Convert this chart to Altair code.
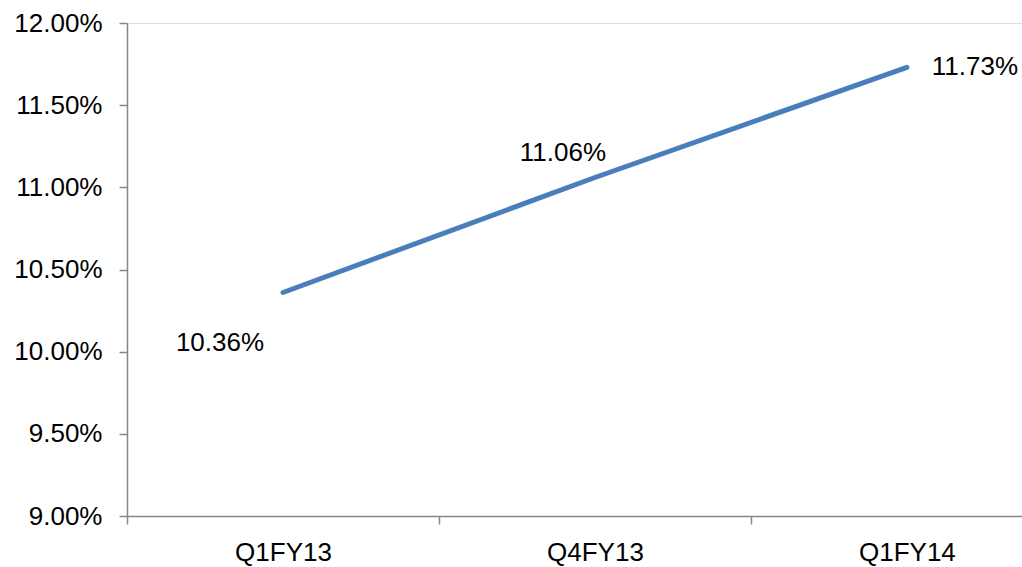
import altair as alt
import pandas as pd

# Quarterly ratio series
quarters = ["Q1FY13", "Q4FY13", "Q1FY14"]
ratios = [0.1036, 0.1106, 0.1173]

# Label placement relative to each point (pixels)
label_dx = [-63, -32, 68]
label_dy = [50, -24, 0]

df = pd.DataFrame({
    "idx": list(range(len(quarters))),
    "quarter": quarters,
    "ratio": ratios,
})

FONT = "Liberation Sans"
FONT_SIZE = 26
AXIS_GREY = "#868686"
LINE_BLUE = "#4A7EBB"

label_expr = " : ".join(
    f"datum.value == {i} ? '{q}'" for i, q in enumerate(quarters)
) + " : ''"

x_scale = alt.Scale(domain=[-0.5, 2.369], nice=False, zero=False)
y_scale = alt.Scale(domain=[0.09, 0.12], nice=False, zero=False)

x_enc = alt.X(
    "idx:Q",
    scale=x_scale,
    axis=alt.Axis(
        values=[-0.5, 0, 0.5, 1, 1.5, 2],
        labelExpr=label_expr,
        title=None,
        grid=False,
        domainColor=AXIS_GREY,
        domainWidth=1.5,
        tickColor=AXIS_GREY,
        tickWidth=1.5,
        tickSize=8,
        tickOpacity={"condition": {"test": "datum.value % 1 != 0", "value": 1}, "value": 0},
        labelFont=FONT,
        labelFontSize=FONT_SIZE,
        labelColor="#000000",
        labelPadding=15,
        labelOverlap=False,
        labelBound=False,
        labelFlush=False,
    ),
)

y_enc = alt.Y(
    "ratio:Q",
    scale=y_scale,
    axis=alt.Axis(
        values=[0.09, 0.095, 0.10, 0.105, 0.11, 0.115, 0.12],
        format=".2%",
        title=None,
        grid=False,
        domainColor=AXIS_GREY,
        domainWidth=1.5,
        tickColor=AXIS_GREY,
        tickWidth=1.5,
        tickSize=8,
        labelFont=FONT,
        labelFontSize=FONT_SIZE,
        labelColor="#000000",
        labelPadding=17,
        labelFlush=False,
        labelOverlap=False,
    ),
)

line = alt.Chart(df).mark_line(
    color=LINE_BLUE, strokeWidth=5, strokeCap="round", clip=False
).encode(x=x_enc, y=y_enc)

labels = []
for i in range(len(quarters)):
    labels.append(
        alt.Chart(df)
        .transform_filter(alt.datum.idx == i)
        .mark_text(
            font=FONT,
            fontSize=FONT_SIZE,
            color="#000000",
            align="center",
            baseline="middle",
            dx=label_dx[i],
            dy=label_dy[i],
        )
        .encode(
            x=alt.X("idx:Q", scale=x_scale),
            y=alt.Y("ratio:Q", scale=y_scale),
            text=alt.Text("ratio:Q", format=".2%"),
        )
    )

chart = (
    alt.layer(line, *labels)
    .properties(
        width=895,
        height=493,
        autosize=alt.AutoSizeParams(type="none"),
        padding={"left": 127, "top": 23, "right": 0, "bottom": 51},
    )
    .configure_view(stroke=None)
    .configure(background="#ffffff")
)

chart.save("out.html", embed_options={"renderer": "svg", "actions": False})
